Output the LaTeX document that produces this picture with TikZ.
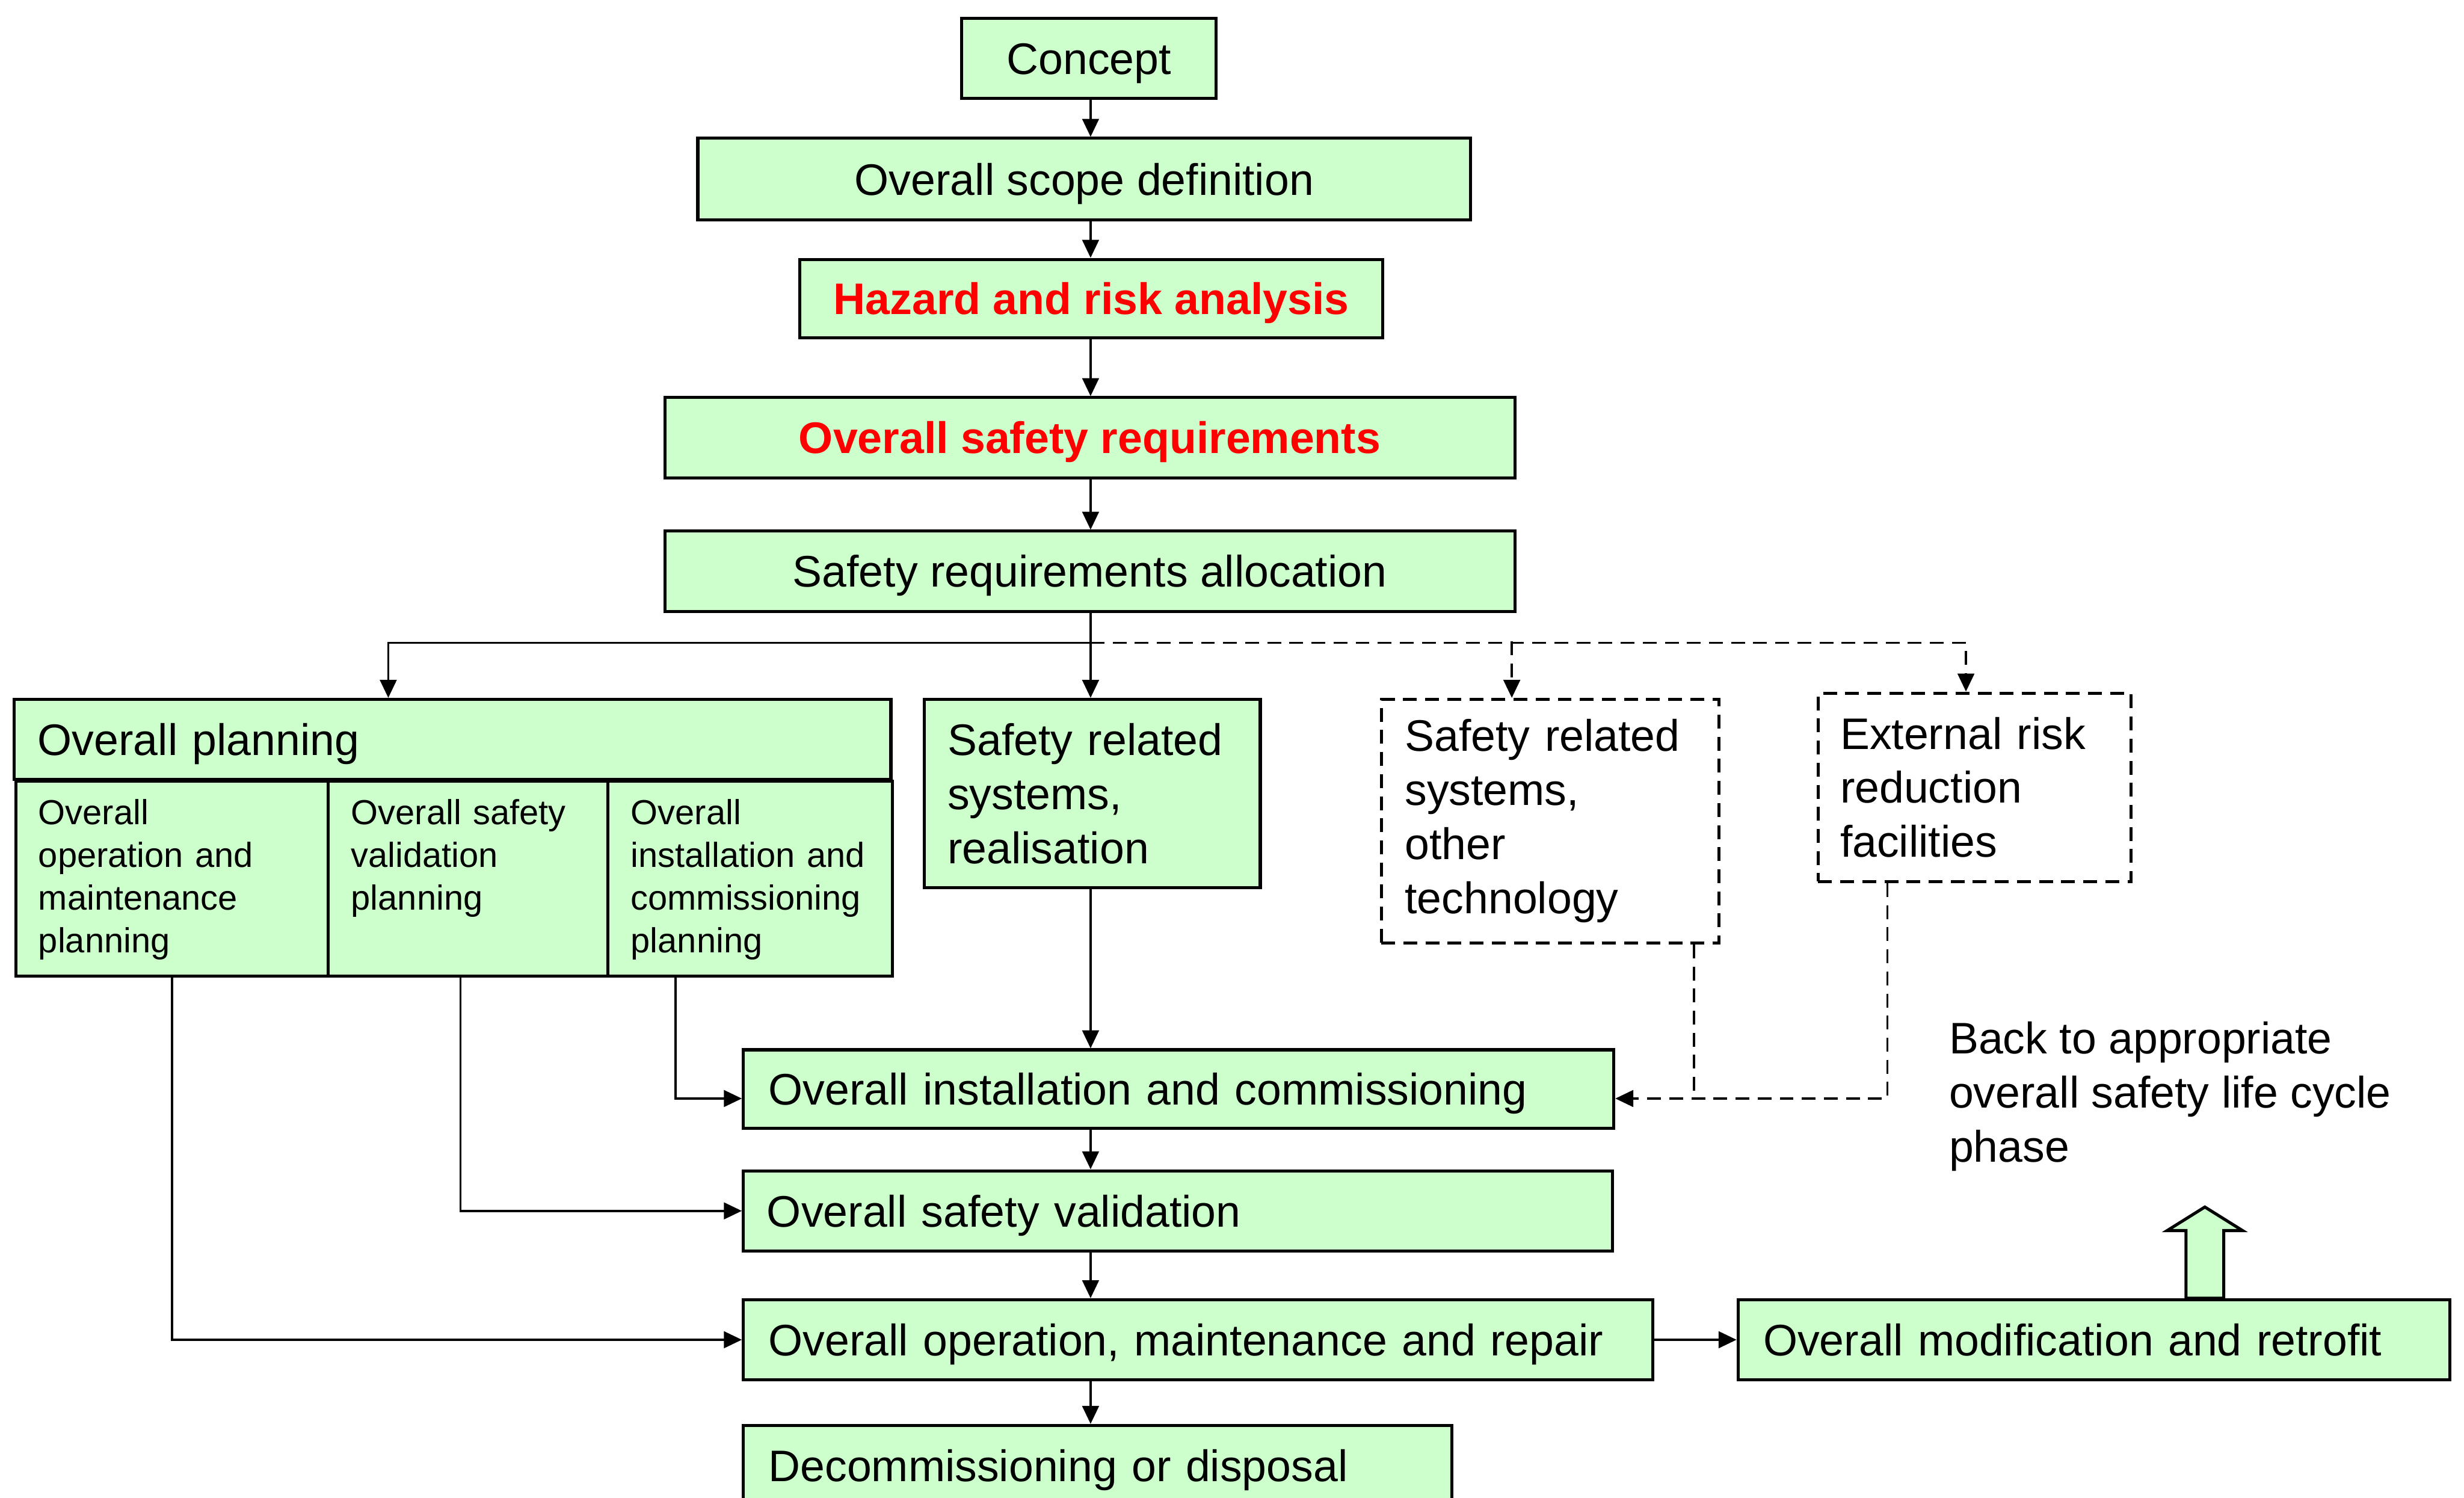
\documentclass[tikz,border=0pt]{standalone}
\usepackage{fontspec}
\setmainfont{Liberation Sans}
\usepackage{tikz}
\usetikzlibrary{arrows.meta, calc}
\definecolor{stagegreen}{HTML}{CCFFCC}
\definecolor{keyred}{HTML}{FF0000}

\begin{document}
\begin{tikzpicture}[x=0.02cm, y=-0.02cm,
  stagebox/.style={draw, line width=1.1pt, fill=stagegreen, inner sep=0pt, minimum height=1.02cm, font=\fontsize{16}{19.6}\selectfont},
  stageleft/.style={stagebox, align=left, inner xsep=0.32cm},
  oneline/.style={text height=11.5pt, text depth=0pt},
  keytext/.style={text=keyred, font=\fontsize{16}{19.6}\selectfont\bfseries},
  subplan/.style={draw, line width=1.1pt, fill=stagegreen, anchor=north west, align=left, inner xsep=0.29cm, inner ysep=0pt, text height=0.55cm, text depth=1.93cm, font=\fontsize{12.6}{15.5}\selectfont},
  extbox/.style={draw, line width=1.1pt, dash pattern=on 5pt off 3pt, align=left, inner xsep=0.3cm, inner ysep=0pt, font=\fontsize{16}{19.6}\selectfont},
  arr/.style={-{Triangle[length=6.5pt,width=6pt]}, line width=0.8pt},
  dashline/.style={dash pattern=on 5pt off 3pt}]
\clip (0,0) rectangle (1568,953);

\node[stagebox, oneline, minimum width=3.24cm] (concept) at (693,37) {Concept};
\node[stagebox, oneline, minimum width=9.84cm, minimum height=1.04cm] (scope) at (690,114) {Overall scope definition};
\node[stagebox, oneline, keytext, minimum width=7.42cm, minimum height=1.0cm] (hazard) at (694.5,190) {Hazard and risk analysis};
\node[stagebox, oneline, keytext, minimum width=10.82cm] (safreq) at (693.5,278.5) {Overall safety requirements};
\node[stagebox, oneline, minimum width=10.82cm] (alloc) at (693.5,363.5) {Safety requirements allocation};

\node[stageleft, oneline, text width=10.56cm, inner xsep=0.3cm] (plantitle) at (288,470.5) {Overall planning};
\node[subplan, text width=3.40cm] (plan1) at (9,496) {Overall\\operation and\\maintenance\\planning};
\node[subplan, text width=2.98cm] (plan2) at (208,496) {Overall safety\\validation\\planning};
\node[subplan, text width=3.04cm] (plan3) at (386,496) {Overall\\installation and\\commissioning\\planning};

\node[stageleft, text width=3.68cm, inner xsep=0.3cm, minimum height=2.4cm] (realis) at (695,505) {Safety related\\systems,\\realisation};
\node[extbox, text width=3.7cm, minimum height=3.1cm] (othertech) at (986.5,522.5) {Safety related\\systems,\\other\\technology};
\node[extbox, text width=3.42cm, inner xsep=0.28cm, minimum height=2.4cm] (extrisk) at (1256.5,501) {External risk\\reduction\\facilities};

\node[stageleft, oneline, text width=10.44cm, minimum height=1.0cm] (install) at (750,693) {Overall installation and commissioning};
\node[stageleft, oneline, text width=10.46cm, inner xsep=0.3cm] (valid) at (749.5,770.5) {Overall safety validation};
\node[stageleft, oneline, text width=10.94cm] (operate) at (762.5,852.5) {Overall operation, maintenance and repair};
\node[stageleft, oneline, text width=8.38cm] (decom) at (698.5,932.5) {Decommissioning or disposal};
\node[stageleft, oneline, text width=8.42cm] (modify) at (1332.5,852.5) {Overall modification and retrofit};
\node[font=\fontsize{16}{19.6}\selectfont, align=left, anchor=west, inner sep=0pt] (backnote) at (1240,697.5) {Back to appropriate\\overall safety life cycle\\phase};

\coordinate (br) at (694,409);
\coordinate (ine) at ($(install.east)+(0,6)$);
\coordinate (inw) at ($(install.west)+(0,6)$);
\coordinate (bk) at ($(modify.north west)+(298,0)$);

\draw[arr] (concept.south -| br) -- (scope.north -| br);
\draw[arr] (scope.south -| br) -- (hazard.north -| br);
\draw[arr] (hazard.south -| br) -- (safreq.north -| br);
\draw[arr] (safreq.south -| br) -- (alloc.north -| br);
\draw[line width=0.8pt] (alloc.south -| br) -- (br);
\draw[arr] (br) -- (br |- realis.north);
\draw[arr] (br) -| ($(plantitle.north west)+(239,0)$);
\draw[arr, dashline] (br) -| ($(extrisk.north west)+(95,0)$);
\draw[arr, dashline] ($(othertech.north west)+(84,0)$) ++(0,-36) -- ($(othertech.north west)+(84,0)$);

\draw[arr] (br |- realis.south) -- (br |- install.north);
\draw[arr] (br |- install.south) -- (br |- valid.north);
\draw[arr] (br |- valid.south) -- (br |- operate.north);
\draw[arr] (br |- operate.south) -- (br |- decom.north);
\draw[arr] (operate.east) -- (modify.west);

\draw[arr] (plan1.south) |- (operate.west);
\draw[arr] ($(plan2.south west)+(85,0)$) |- (valid.west);
\draw[arr] ($(plan3.south west)+(44,0)$) |- (inw);
\draw[line width=0.8pt, dashline] ($(othertech.south east)+(-17,0)$) coordinate (ot) -- (ot |- ine);
\draw[arr, dashline] ($(extrisk.south west)+(45,0)$) |- (ine);

\draw[line width=1.1pt, fill=stagegreen] ($(bk)+(-12,0)$) -- ++(0,-43) -- ++(-12,0) -- ++(24,-15) -- ++(24,15) -- ++(-12,0) -- ++(0,43) -- cycle;
\end{tikzpicture}
\end{document}
